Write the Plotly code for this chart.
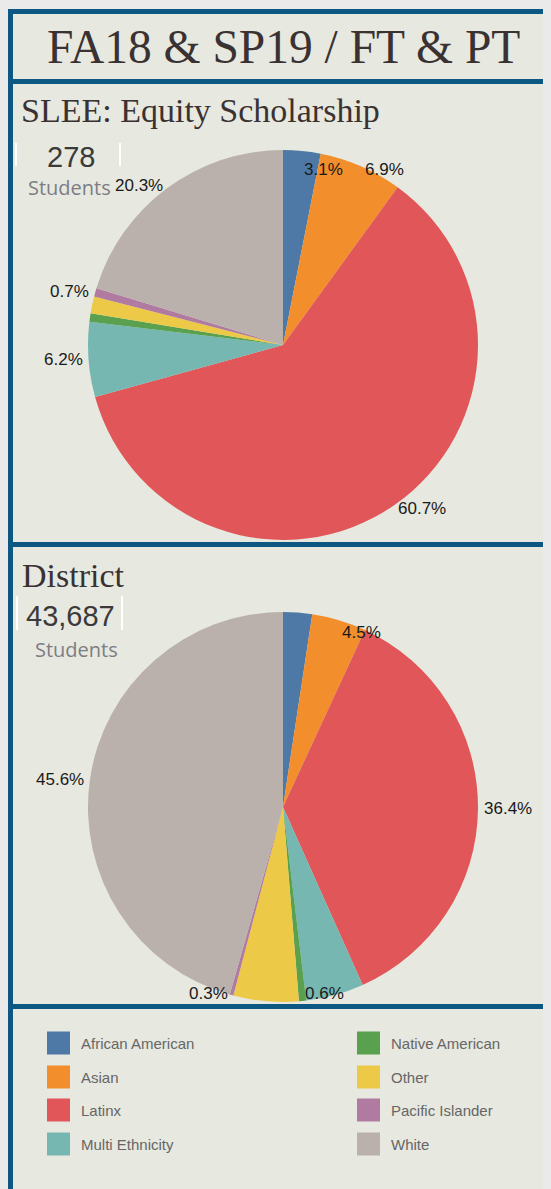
import math
import plotly.graph_objects as go

# ---------------- data ----------------
categories = ["African American", "Asian", "Latinx", "Multi Ethnicity",
              "Native American", "Other", "Pacific Islander", "White"]
colors = ["#4e79a7", "#f28e2b", "#e15759", "#76b7b2",
          "#59a14f", "#edc948", "#b07aa1", "#bab0ac"]

slee_pct = [3.1, 6.9, 60.7, 6.2, 0.7, 1.4, 0.7, 20.3]
district_pct = [2.4, 4.5, 36.4, 4.8, 0.6, 5.4, 0.3, 45.6]

# which slices carry a visible percent label
slee_labeled = [True, True, True, True, False, False, True, True]
district_labeled = [False, True, True, False, True, False, True, True]

main_title = "FA18 & SP19 / FT & PT"
slee_title = "SLEE: Equity Scholarship"
district_title = "District"
slee_count = "278"
district_count = "43,687"
count_unit = "Students"

# ---------------- geometry helpers ----------------
OFF = 8                 # page body margin
PW, PH = 551, 1189      # page size
W, H = PW - OFF, PH - OFF
BLUE = "#0d5882"
PANEL = "#e7e8df"
OUTER = "#eaeaea"


def px(x):  # page x -> paper
    return (x - OFF) / W


def py(y):  # page y -> paper
    return 1 - (y - OFF) / H


PIE_R = 195
PIE_CX = 283
PIE1_CY = 345
PIE2_CY = 807
LABEL_TOP_PAD = 20      # labels kept inside the pane near the pie's top
LABEL_BOTTOM_PAD = 9    # ... and near its bottom

fig = go.Figure()

pie_common = dict(
    labels=categories,
    marker=dict(colors=colors, line=dict(width=0)),
    sort=False,
    direction="clockwise",
    rotation=0,
    textinfo="none",
    showlegend=False,
    hoverinfo="label+percent",
)

for vals, cy in [(slee_pct, PIE1_CY), (district_pct, PIE2_CY)]:
    fig.add_trace(go.Pie(
        values=vals,
        domain=dict(x=[px(PIE_CX - PIE_R), px(PIE_CX + PIE_R)],
                    y=[py(cy + PIE_R), py(cy - PIE_R)]),
        **pie_common,
    ))

annotations = []
label_font = dict(family="Liberation Sans, Arial, sans-serif", size=17, color="#1a1a1a")


def slice_labels(vals, labeled, cy):
    total = sum(vals)
    cum = 0.0
    for v, show in zip(vals, labeled):
        mid = (cum + v / 2) / total * 2 * math.pi  # clockwise from 12 o'clock
        cum += v
        if not show:
            continue
        rr = PIE_R + 4
        x = PIE_CX + rr * math.sin(mid)
        y = cy - rr * math.cos(mid)
        y = min(max(y, cy - PIE_R + LABEL_TOP_PAD), cy + PIE_R - LABEL_BOTTOM_PAD)
        annotations.append(dict(
            text=f"{v:.1f}%", x=px(x), y=py(y), xref="paper", yref="paper",
            showarrow=False, xanchor="left" if math.sin(mid) >= 0 else "right",
            yanchor="middle", font=label_font))


slice_labels(slee_pct, slee_labeled, PIE1_CY)
slice_labels(district_pct, district_labeled, PIE2_CY)

shapes = []
shapes.append(dict(type="rect", xref="paper", yref="paper",
                   x0=px(7), x1=px(PW), y0=py(PH), y1=py(9),
                   fillcolor=PANEL, line=dict(width=0), layer="below"))


def hband(y0, y1):
    shapes.append(dict(type="rect", xref="paper", yref="paper",
                       x0=px(7), x1=px(PW), y0=py(y1), y1=py(y0),
                       fillcolor=BLUE, line=dict(width=0), layer="above"))


hband(9, 14)
hband(79, 84)
hband(542, 547)
hband(1004, 1009)
shapes.append(dict(type="rect", xref="paper", yref="paper",
                   x0=px(7), x1=px(13), y0=py(PH), y1=py(9),
                   fillcolor=BLUE, line=dict(width=0), layer="above"))
shapes.append(dict(type="rect", xref="paper", yref="paper",
                   x0=px(548), x1=px(550), y0=py(PH), y1=py(9),
                   fillcolor=BLUE, line=dict(width=0), layer="above"))

for (x, y0, y1) in [(16, 143, 166), (120, 143, 166), (17, 596, 630), (122, 596, 630)]:
    shapes.append(dict(type="line", xref="paper", yref="paper",
                       x0=px(x), x1=px(x), y0=py(y1), y1=py(y0),
                       line=dict(color="#ffffff", width=2)))

serif = "Liberation Serif, Times New Roman, serif"
annotations.append(dict(text=main_title, x=px(283.5), y=py(47), xref="paper", yref="paper",
                        showarrow=False, xanchor="center", yanchor="middle",
                        font=dict(family=serif, size=47.5, color="#3a3232")))
annotations.append(dict(text=slee_title, x=px(19), y=py(111), xref="paper", yref="paper",
                        showarrow=False, xanchor="left", yanchor="middle",
                        font=dict(family=serif, size=34, color="#3a3232")))
annotations.append(dict(text=district_title, x=px(20), y=py(575), xref="paper", yref="paper",
                        showarrow=False, xanchor="left", yanchor="middle",
                        font=dict(family=serif, size=34, color="#3a3232")))

count_font = dict(family="Liberation Sans, Arial, sans-serif", size=29, color="#3a3a3a")
unit_font = dict(family="Open Sans, Liberation Sans, sans-serif", size=20, color="#7d7d85")
annotations.append(dict(text=slee_count, x=px(71), y=py(157), xref="paper", yref="paper",
                        showarrow=False, xanchor="center", yanchor="middle", font=count_font))
annotations.append(dict(text=count_unit, x=px(69), y=py(187), xref="paper", yref="paper",
                        showarrow=False, xanchor="center", yanchor="middle", font=unit_font))
annotations.append(dict(text=district_count, x=px(70), y=py(616), xref="paper", yref="paper",
                        showarrow=False, xanchor="center", yanchor="middle", font=count_font))
annotations.append(dict(text=count_unit, x=px(76), y=py(649), xref="paper", yref="paper",
                        showarrow=False, xanchor="center", yanchor="middle", font=unit_font))

row_centers = [1043, 1077, 1110, 1144]
col_x = [47, 357]
sw = 23
for i, (cat, col) in enumerate(zip(categories, colors)):
    c = i // 4
    r = i % 4
    x0 = col_x[c]
    yc = row_centers[r]
    shapes.append(dict(type="rect", xref="paper", yref="paper",
                       x0=px(x0), x1=px(x0 + sw), y0=py(yc + sw / 2), y1=py(yc - sw / 2),
                       fillcolor=col, line=dict(width=0)))
    annotations.append(dict(text=cat, x=px(x0 + sw + 9), y=py(yc), xref="paper", yref="paper",
                            showarrow=False, xanchor="left", yanchor="middle",
                            font=dict(family="Liberation Sans, Arial, sans-serif", size=15, color="#666666")))

fig.update_layout(
    width=W, height=H,
    margin=dict(l=0, r=0, t=0, b=0),
    paper_bgcolor=OUTER,
    plot_bgcolor=OUTER,
    shapes=shapes,
    annotations=annotations,
)

fig.write_html("out.html", post_script="document.body.style.background='%s';" % OUTER)
